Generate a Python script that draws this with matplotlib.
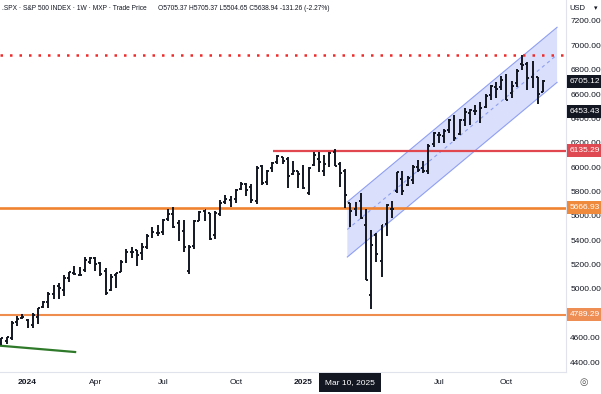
import numpy as np
import pandas as pd
import matplotlib
matplotlib.use("Agg")
import matplotlib.pyplot as plt
import matplotlib.dates as mdates
from matplotlib.patches import Polygon

plt.rcParams['font.family'] = ['Liberation Sans', 'DejaVu Sans']

# weekly SPX bars (week start, open, high, low, close)
weeks = pd.date_range("2023-11-27", "2025-11-24", freq="7D")
opens = [4554.9, 4569.8, 4593.4, 4725.6, 4758.9, 4745.2, 4703.7, 4772.3, 4853.4, 4892.0,
         4957.2, 5026.8, 4989.3, 5093.0, 5130.9, 5111.0, 5154.8, 5219.5, 5257.9, 5211.4,
         5149.7, 4987.3, 5114.1, 5142.4, 5233.1, 5305.3, 5315.9, 5297.2, 5341.2, 5432.4,
         5460.7, 5471.1, 5572.8, 5614.1, 5537.8, 5476.6, 5151.1, 5351.4, 5557.2, 5639.7,
         5623.9, 5442.1, 5615.2, 5711.9, 5726.5, 5737.8, 5822.3, 5857.8, 5833.9, 5723.2,
         6008.0, 5874.2, 5992.3, 6040.1, 6083.0, 6063.8, 5940.3, 5969.3, 5982.8, 5788.0,
         6014.1, 6067.7, 5969.7, 6046.4, 6121.6, 6026.7, 5968.3, 5705.4, 5653.0, 5718.1,
         5527.9, 4953.8, 5441.0, 5232.9, 5529.0, 5655.3, 5807.0, 5902.8, 5854.1, 5897.7,
         6004.6, 5991.3, 5969.7, 6193.4, 6259.8, 6255.2, 6304.7, 6397.7, 6271.7, 6389.7,
         6445.0, 6457.7, 6401.5, 6494.0, 6590.6, 6661.8, 6657.2, 6740.3, 6610.0, 6690.0,
         6850.0, 6845.0, 6737.0, 6737.5, 6619.0]
highs = [4599.4, 4609.2, 4738.6, 4778.0, 4793.3, 4754.3, 4798.5, 4842.1, 4903.7, 4975.3,
         5030.1, 5048.4, 5111.1, 5140.3, 5189.3, 5179.1, 5261.1, 5264.9, 5263.0, 5220.3,
         5168.4, 5123.5, 5129.0, 5239.7, 5325.5, 5341.9, 5315.9, 5375.1, 5447.3, 5505.5,
         5523.6, 5570.3, 5655.6, 5669.7, 5566.2, 5566.2, 5358.1, 5566.0, 5643.2, 5651.6,
         5623.9, 5636.3, 5733.6, 5767.4, 5765.1, 5822.1, 5878.5, 5866.9, 5863.4, 6012.5,
         6017.3, 5972.9, 6044.2, 6099.0, 6085.2, 6085.2, 6049.8, 5970.0, 6021.0, 6000.7,
         6128.2, 6120.9, 6101.3, 6127.5, 6147.4, 6043.7, 5986.1, 5705.4, 5715.3, 5787.0,
         5655.4, 5481.3, 5459.5, 5528.1, 5700.7, 5720.1, 5958.6, 5968.6, 5924.1, 6016.9,
         6059.4, 6050.8, 6187.7, 6284.7, 6290.2, 6315.6, 6395.0, 6427.0, 6395.2, 6481.3,
         6478.0, 6508.2, 6532.7, 6600.2, 6672.7, 6699.5, 6750.9, 6764.6, 6709.0, 6807.1,
         6920.3, 6859.4, 6869.9, 6737.5, 6715.0]
lows = [4537.2, 4546.5, 4584.2, 4697.8, 4751.0, 4682.1, 4682.1, 4714.8, 4844.1, 4845.2,
        4918.1, 4920.3, 4946.0, 5057.3, 5114.5, 5104.4, 5138.7, 5203.4, 5146.1, 5107.9,
        4953.6, 4984.1, 5011.1, 5142.4, 5211.2, 5256.9, 5191.7, 5234.3, 5331.5, 5420.2,
        5433.2, 5446.0, 5557.2, 5497.0, 5391.0, 5302.4, 5119.3, 5331.3, 5555.0, 5560.9,
        5402.6, 5406.9, 5596.9, 5698.2, 5674.0, 5707.0, 5814.6, 5762.4, 5703.7, 5696.5,
        5853.0, 5856.0, 5963.9, 6023.8, 6024.0, 5832.3, 5932.3, 5829.5, 5824.0, 5773.3,
        6008.6, 5962.9, 5923.9, 6003.0, 6008.6, 5837.7, 5666.3, 5504.7, 5597.8, 5572.4,
        5069.9, 4835.0, 5220.8, 5101.6, 5433.2, 5578.6, 5786.1, 5767.4, 5841.3, 5861.4,
        5963.2, 5948.7, 5943.2, 6168.1, 6201.0, 6201.6, 6281.7, 6212.7, 6261.0, 6341.0,
        6343.9, 6429.0, 6360.6, 6485.0, 6551.0, 6569.2, 6631.0, 6550.8, 6570.0, 6657.0,
        6799.0, 6631.4, 6651.0, 6521.5, 6614.0]
closes = [4594.6, 4604.4, 4719.2, 4754.6, 4769.8, 4697.2, 4783.8, 4839.8, 4891.0, 4958.6,
          5026.6, 5005.6, 5088.8, 5137.1, 5123.7, 5117.1, 5234.2, 5254.4, 5204.3, 5123.4,
          4967.2, 5100.0, 5127.8, 5222.7, 5303.3, 5304.7, 5277.5, 5347.0, 5431.6, 5464.6,
          5460.5, 5567.2, 5615.4, 5505.0, 5459.1, 5346.6, 5344.2, 5554.3, 5634.6, 5648.4,
          5408.4, 5626.0, 5702.6, 5738.2, 5751.1, 5815.0, 5864.7, 5808.1, 5728.8, 5995.5,
          5870.6, 5969.3, 6032.4, 6090.3, 6051.1, 5930.9, 5970.8, 5942.5, 5827.0, 5996.7,
          6101.2, 6040.5, 6026.0, 6114.6, 6013.1, 5954.5, 5770.2, 5638.9, 5667.6, 5580.9,
          5074.1, 5363.4, 5282.7, 5525.2, 5686.7, 5659.9, 5958.4, 5802.8, 5911.7, 6000.4,
          5977.0, 5967.8, 6173.1, 6279.4, 6259.8, 6296.8, 6388.6, 6238.0, 6389.5, 6449.8,
          6466.9, 6460.3, 6481.5, 6584.3, 6664.4, 6643.7, 6715.8, 6552.5, 6664.0, 6791.7,
          6840.2, 6728.8, 6734.1, 6603.0, 6705.1]

# drawn levels and channel
ath_level = 6920.3
level_red = 6135.29
level_orange = 5666.93
level_low = 4789.29
red_start = "2024-11-26"
green_dates = ["2023-11-25", "2024-03-05"]
green_prices = [4534, 4482]
chan_dates = ["2025-03-06", "2025-12-13"]
chan_upper = [5714, 7148]
chan_width = 452

price_ticks = np.arange(4400, 7201, 200)
xtick_dates = ["2024-01-01", "2024-04-01", "2024-07-01", "2024-10-07",
               "2025-01-06", "2025-07-07", "2025-10-06"]
xtick_labels = ["2024", "Apr", "Jul", "Oct", "2025", "Jul", "Oct"]

fig = plt.figure(figsize=(6.01, 3.94), dpi=100)
ax = fig.add_axes([0, 22 / 394, 566 / 601, 372 / 394])

x = mdates.date2num(weeks)
d = 2.6
ax.vlines(x, lows, highs, color="#131722", lw=1.4, zorder=5)
ax.hlines(opens, x - d, x, color="#131722", lw=1.4, zorder=5)
ax.hlines(closes, x, x + d, color="#131722", lw=1.4, zorder=5)

# channel
cx = mdates.date2num(pd.to_datetime(chan_dates))
cu = np.array(chan_upper)
cl = cu - chan_width
poly = Polygon([(cx[0], cu[0]), (cx[1], cu[1]), (cx[1], cl[1]), (cx[0], cl[0])],
               closed=True, fc="#d6ddfb", ec="none", alpha=0.9, zorder=1)
ax.add_patch(poly)
ax.plot(cx, cu, color="#8f9ff2", lw=0.8, zorder=2)
ax.plot(cx, cl, color="#8f9ff2", lw=0.8, zorder=2)
ax.plot(cx, (cu + cl) / 2, color="#8f9ff2", lw=0.8, ls=(0, (3, 3)), zorder=2)

# horizontal levels
ax.axhline(ath_level, color="#ee2b2b", lw=1.8, ls=(0, (1, 2.8)), zorder=3)
ax.hlines(level_red, mdates.date2num(pd.Timestamp(red_start)), mdates.date2num(pd.Timestamp("2026-01-10")),
          color="#e0474f", lw=1.6, zorder=3)
ax.axhline(level_orange, color="#f08330", lw=1.9, zorder=3)
ax.axhline(level_low, color="#ef8d4f", lw=1.5, zorder=3)
ax.plot(mdates.date2num(pd.to_datetime(green_dates)), green_prices, color="#2f7a2a", lw=1.6, zorder=3)

ax.set_xlim(mdates.date2num(pd.Timestamp("2023-11-25")), mdates.date2num(pd.Timestamp("2025-12-25")))
ax.set_ylim(4318, 7372)

for s in ["top", "left"]:
    ax.spines[s].set_visible(False)
ax.spines["right"].set_color("#e0e3eb")
ax.spines["bottom"].set_color("#e0e3eb")

ax.yaxis.tick_right()
ax.set_yticks(price_ticks)
ax.set_yticklabels([f"{v:.2f}" for v in price_ticks])
ax.tick_params(axis="y", length=0, pad=3, labelsize=6, labelcolor="#131722")

ax.set_xticks(mdates.date2num(pd.to_datetime(xtick_dates)))
ax.set_xticklabels(xtick_labels)
ax.tick_params(axis="x", length=0, pad=5, labelsize=6, labelcolor="#131722")
for lab in ax.get_xticklabels():
    if lab.get_text() in ("2024", "2025"):
        lab.set_fontweight("bold")

# hovered date label
ax.annotate("Mar 10, 2025", xy=(mdates.date2num(pd.Timestamp("2025-03-10")), 0),
            xycoords=("data", "axes fraction"), xytext=(0, -7.5), textcoords="offset points",
            ha="center", va="center", fontsize=6, color="white", annotation_clip=False,
            bbox=dict(boxstyle="square,pad=0.75", fc="#131722", ec="none"))

# price labels on the scale
tags = [(6705.12, "#131722"), (6453.43, "#131722"), (level_red, "#df4a52"),
        (level_orange, "#ef8a3c"), (level_low, "#ee8e55")]
for val, col in tags:
    ax.annotate(f"{val:.2f}", xy=(1, val), xycoords=("axes fraction", "data"),
                xytext=(2.5, 0), textcoords="offset points", ha="left", va="center",
                fontsize=6, color="white", annotation_clip=False, zorder=10,
                bbox=dict(boxstyle="square,pad=0.35", fc=col, ec="none"))

fig.text(0.003, 1 - 8 / 394, ".SPX · S&P 500 INDEX · 1W · MXP · Trade Price",
         fontsize=4.8, color="#131722", va="center", ha="left")
fig.text(158 / 601, 1 - 8 / 394, "O5705.37 H5705.37 L5504.65 C5638.94 -131.26 (-2.27%)",
         fontsize=4.8, color="#131722", va="center", ha="left")
fig.text(569 / 601, 1 - 8 / 394, "USD", fontsize=5.5, color="#131722", va="center", ha="left")
fig.text(596 / 601, 1 - 8 / 394, "▾", fontsize=5, color="#131722", va="center", ha="center",
         family=["DejaVu Sans"])
fig.text(584 / 601, 1 - 382 / 394, "◎", fontsize=7, color="#555555", va="center", ha="center",
         family=["DejaVu Sans"])

fig.savefig("out.png", dpi=100)
